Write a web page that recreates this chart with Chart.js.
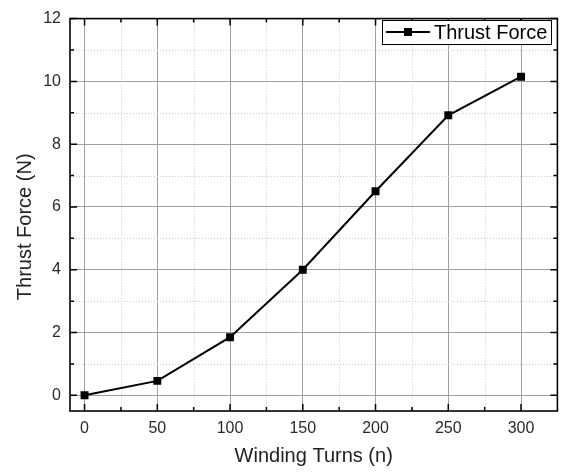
<!DOCTYPE html>
<html>
<head>
<meta charset="utf-8">
<script src="https://cdn.jsdelivr.net/npm/chart.js@4.4.1/dist/chart.umd.min.js"></script>
<style>
  html, body { margin: 0; padding: 0; background: #fff; }
  #wrap { width: 563px; height: 472px; }
</style>
</head>
<body>
<div id="wrap"><canvas id="chart"></canvas></div>
<script>
// data
const turns = [0, 50, 100, 150, 200, 250, 300];
const thrust = [0, 0.46, 1.85, 4.0, 6.5, 8.92, 10.15];

const xTicks = [0, 50, 100, 150, 200, 250, 300];
const yTicks = [0, 2, 4, 6, 8, 10, 12];
const xMinor = [25, 75, 125, 175, 225, 275];
const yMinor = [1, 3, 5, 7, 9, 11];

const yTitle = 'Thrust Force (N)';
const FONT = 'Arial, "Liberation Sans", sans-serif';

// minor dotted grid, inward ticks, frame, y title and legend box (Origin look)
const originFrame = {
    id: 'originFrame',
    beforeDatasetsDraw(chart) {
        const { ctx, chartArea: a, scales: { x, y } } = chart;
        ctx.save();
        ctx.strokeStyle = '#c8c8c8';
        ctx.lineWidth = 1;
        ctx.setLineDash([1, 2]);
        ctx.beginPath();
        xMinor.forEach(v => {
            const px = Math.round(x.getPixelForValue(v)) + 0.5;
            ctx.moveTo(px, a.top);
            ctx.lineTo(px, a.bottom);
        });
        yMinor.forEach(v => {
            const py = Math.round(y.getPixelForValue(v)) + 0.5;
            ctx.moveTo(a.left, py);
            ctx.lineTo(a.right, py);
        });
        ctx.stroke();
        ctx.restore();
    },
    afterDraw(chart) {
        const { ctx, chartArea: a, scales: { x, y } } = chart;
        ctx.save();
        ctx.strokeStyle = '#000';
        ctx.lineWidth = 1.5;
        ctx.setLineDash([]);
        ctx.beginPath();
        const tick = (vals, len, horiz) => {
            vals.forEach(v => {
                if (horiz) {
                    const px = x.getPixelForValue(v);
                    ctx.moveTo(px, a.bottom); ctx.lineTo(px, a.bottom - len);
                    ctx.moveTo(px, a.top); ctx.lineTo(px, a.top + len);
                } else {
                    const py = y.getPixelForValue(v);
                    ctx.moveTo(a.left, py); ctx.lineTo(a.left + len, py);
                    ctx.moveTo(a.right, py); ctx.lineTo(a.right - len, py);
                }
            });
        };
        tick(xTicks, 7, true);
        tick(xMinor, 4, true);
        tick(yTicks, 7, false);
        tick(yMinor, 4, false);
        ctx.stroke();
        ctx.lineWidth = 1.6;
        ctx.strokeRect(a.left, a.top, a.right - a.left, a.bottom - a.top);

        // y axis title, sits a little below the plot centre like the original
        ctx.save();
        ctx.translate(25, (a.top + a.bottom) / 2 + 12);
        ctx.rotate(-Math.PI / 2);
        ctx.fillStyle = '#222';
        ctx.font = '20px ' + FONT;
        ctx.textAlign = 'center';
        ctx.textBaseline = 'middle';
        ctx.fillText(yTitle, 0, 0);
        ctx.restore();

        // legend
        const ds = chart.data.datasets[0];
        const bx = 382, by = 20, bw = 169, bh = 24;
        ctx.fillStyle = '#fff';
        ctx.fillRect(bx, by, bw, bh);
        ctx.lineWidth = 1;
        ctx.strokeStyle = '#000';
        ctx.strokeRect(bx + 0.5, by + 0.5, bw, bh);
        const cy = by + bh / 2;
        ctx.lineWidth = 2;
        ctx.beginPath();
        ctx.moveTo(386, cy);
        ctx.lineTo(430, cy);
        ctx.stroke();
        ctx.fillStyle = ds.pointBackgroundColor;
        ctx.fillRect(404, cy - 4, 8, 8);
        ctx.fillStyle = '#000';
        ctx.font = '20px ' + FONT;
        ctx.textBaseline = 'middle';
        ctx.textAlign = 'left';
        ctx.fillText(ds.label, 434, cy + 1);
        ctx.restore();
    }
};

new Chart(document.getElementById('chart'), {
    type: 'line',
    data: {
        datasets: [{
            label: 'Thrust Force',
            data: turns.map((t, i) => ({ x: t, y: thrust[i] })),
            borderColor: '#000',
            borderWidth: 2,
            pointStyle: 'rect',
            pointRadius: 5.6,
            pointBackgroundColor: '#000',
            pointBorderColor: '#000',
            pointBorderWidth: 0,
            tension: 0,
            fill: false
        }]
    },
    options: {
        responsive: true,
        maintainAspectRatio: false,
        animation: false,
        layout: { padding: { top: 15, right: 4, left: 0, bottom: 0 } },
        plugins: {
            legend: { display: false },
            tooltip: { enabled: false }
        },
        scales: {
            x: {
                type: 'linear',
                min: -10,
                max: 325,
                afterBuildTicks: s => { s.ticks = xTicks.map(v => ({ value: v })); },
                afterFit: s => { s.height = 61; },
                grid: { color: '#a0a0a0', lineWidth: 1, drawTicks: false },
                border: { display: false },
                ticks: { padding: 8, color: '#2a2a2a', font: { size: 16, family: FONT } },
                title: {
                    display: true,
                    text: 'Winding Turns (n)',
                    color: '#222',
                    font: { size: 20, family: FONT },
                    padding: { top: 0, bottom: 4 }
                }
            },
            y: {
                min: -0.5,
                max: 12,
                afterBuildTicks: s => { s.ticks = yTicks.map(v => ({ value: v })); },
                afterFit: s => { s.width = 70; },
                grid: { color: '#a0a0a0', lineWidth: 1, drawTicks: false },
                border: { display: false },
                ticks: { padding: 9, color: '#2a2a2a', font: { size: 16, family: FONT } },
                title: { display: false }
            }
        }
    },
    plugins: [originFrame]
});
</script>
</body>
</html>
